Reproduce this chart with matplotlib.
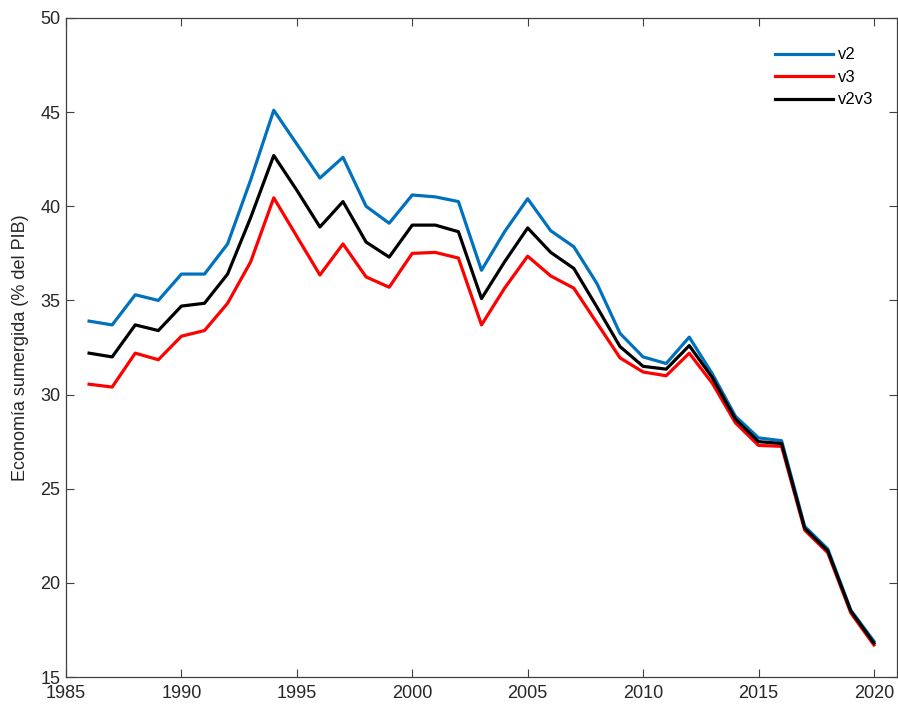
import matplotlib
matplotlib.use("Agg")
import matplotlib.pyplot as plt

years = list(range(1986, 2021))
v2 = [33.9, 33.7, 35.3, 35.0, 36.4, 36.4, 38.0, 41.4, 45.1, 43.3, 41.5, 42.6,
      40.0, 39.1, 40.6, 40.5, 40.25, 36.6, 38.65, 40.4, 38.7, 37.85, 35.9, 33.25,
      32.0, 31.65, 33.05, 31.1, 28.85, 27.7, 27.55, 23.0, 21.8, 18.55, 16.9]
v3 = [30.55, 30.4, 32.2, 31.85, 33.1, 33.4, 34.85, 37.05, 40.45, 38.4, 36.35, 38.0,
      36.25, 35.7, 37.5, 37.55, 37.25, 33.7, 35.65, 37.35, 36.3, 35.65, 33.8, 31.95,
      31.2, 31.0, 32.2, 30.6, 28.5, 27.3, 27.25, 22.8, 21.6, 18.4, 16.7]
v2v3 = [32.2, 32.0, 33.7, 33.4, 34.7, 34.85, 36.4, 39.4, 42.7, 40.85, 38.9, 40.25,
        38.1, 37.3, 39.0, 39.0, 38.65, 35.1, 37.05, 38.85, 37.55, 36.7, 34.65, 32.55,
        31.5, 31.35, 32.6, 30.9, 28.7, 27.5, 27.4, 22.9, 21.7, 18.5, 16.8]

xticks = [1985, 1990, 1995, 2000, 2005, 2010, 2015, 2020]
yticks = [15, 20, 25, 30, 35, 40, 45, 50]

plt.rcParams['font.family'] = ['Liberation Sans', 'DejaVu Sans']

fig = plt.figure(figsize=(8.98, 7.05), dpi=100)
ax = fig.add_axes([66/898, 1 - 677/705, (897 - 66)/898, (677 - 18)/705])

ax.plot(years, v2, color='#0072BD', lw=2.3, label='v2')
ax.plot(years, v3, color='#FF0000', lw=2.3, label='v3')
ax.plot(years, v2v3, color='black', lw=2.3, label='v2v3')

ax.set_xlim(1985, 2021)
ax.set_ylim(15, 50)
ax.set_xticks(xticks)
ax.set_yticks(yticks)
ax.tick_params(direction='in', top=True, right=True, length=6, width=0.8,
               color='#404040', labelsize=13, labelcolor='#262626', pad=4)
ax.tick_params(axis='x', pad=6)
for s in ax.spines.values():
    s.set_color('#404040')
    s.set_linewidth(0.9)
ax.set_ylabel('Economía sumergida (% del PIB)', fontsize=13, color='#262626', labelpad=8)

leg = ax.legend(loc='upper right', bbox_to_anchor=(0.99, 0.978), frameon=False,
                fontsize=12, handlelength=3.5, handletextpad=0.3, labelspacing=0.45)

fig.savefig('out.png', dpi=100)
